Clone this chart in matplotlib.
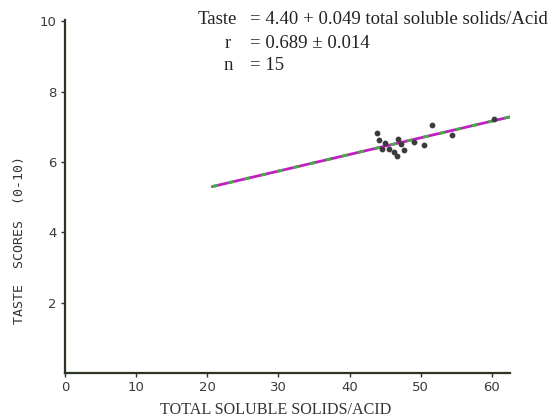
import matplotlib
matplotlib.use("Agg")
import matplotlib.pyplot as plt
import numpy as np

# data
ratio = [43.8, 44.1, 44.6, 45.0, 45.6, 46.2, 46.6, 46.8, 47.2, 47.7, 49.1, 50.5, 51.6, 54.4, 60.3]
taste = [6.83, 6.62, 6.37, 6.55, 6.37, 6.28, 6.16, 6.66, 6.52, 6.35, 6.56, 6.47, 7.05, 6.78, 7.21]
fit_x = [20.7, 62.7]
fit_y = [5.30, 7.29]
xticks = [0, 10, 20, 30, 40, 50, 60]
yticks = [2, 4, 6, 8, 10]

ink = '#2c3524'
fig = plt.figure(figsize=(5.5, 4.18), dpi=100)
ax = fig.add_axes([0.118, 0.108, 0.81, 0.845])

# regression line: magenta with green dashes, like the scanned print
ax.plot(fit_x, fit_y, color='#c020c0', lw=2.0, solid_capstyle='round', zorder=2)
ax.plot(fit_x, fit_y, color='#40b040', lw=2.0, dashes=(2, 4), zorder=3)
ax.scatter(ratio, taste, s=10, color='#3b3b3b', zorder=4)

ax.set_xlim(0, 62.6)
ax.set_ylim(0, 10.05)
ax.set_xticks(xticks)
ax.set_yticks(yticks)
for s in ['top', 'right']:
    ax.spines[s].set_visible(False)
for s in ['left', 'bottom']:
    ax.spines[s].set_color(ink)
    ax.spines[s].set_linewidth(1.6)
ax.tick_params(direction='out', length=3, width=1, color=ink,
               labelsize=9.5, labelcolor='#3a3a3a', pad=3)

fig.text(20 / 550, 1 - 240 / 418, 'TASTE  SCORES  (0-10)', rotation=90,
         ha='center', va='center', fontsize=9.5, family='DejaVu Sans Mono', color='#333333')
fig.text(276 / 550, 1 - 410 / 418, 'TOTAL SOLUBLE SOLIDS/ACID',
         ha='center', va='center', fontsize=11.6, family='Liberation Serif', color='#333333')

# equation block
left = ['Taste', 'r', 'n']
left_x = [198, 225, 224]
right = ['= 4.40 + 0.049 total soluble solids/Acid', '= 0.689 \u00b1 0.014', '= 15']
rows_y = [20, 43, 65]
for lt, lx, rt, ry in zip(left, left_x, right, rows_y):
    fig.text(lx / 550, 1 - ry / 418, lt, ha='left', va='center',
             fontsize=13.5, family='Liberation Serif', color='#222222')
    fig.text(250 / 550, 1 - ry / 418, rt, ha='left', va='center',
             fontsize=13.5, family='Liberation Serif', color='#222222')

fig.savefig('out.png', dpi=100)
